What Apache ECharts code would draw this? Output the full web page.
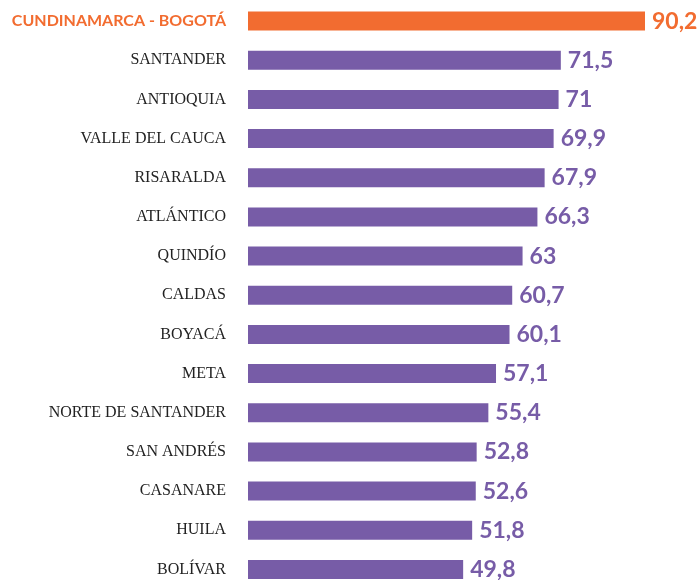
<!DOCTYPE html>
<html>
<head>
<meta charset="utf-8">
<script src="https://cdn.jsdelivr.net/npm/echarts@6/dist/echarts.min.js"></script>
<style>
  html, body { margin: 0; padding: 0; background: #fff; }
  #chart { width: 698px; height: 580px; }
</style>
</head>
<body>
<div id="chart"></div>
<script>
var departamentos = ['CUNDINAMARCA - BOGOTÁ', 'SANTANDER', 'ANTIOQUIA', 'VALLE DEL CAUCA', 'RISARALDA',
  'ATLÁNTICO', 'QUINDÍO', 'CALDAS', 'BOYACÁ', 'META', 'NORTE DE SANTANDER', 'SAN ANDRÉS',
  'CASANARE', 'HUILA', 'BOLÍVAR']
var valores = [90.2, 71.5, 71, 69.9, 67.9, 66.3, 63, 60.7, 60.1, 57.1, 55.4, 52.8, 52.6, 51.8, 49.8]

var naranja = '#f26c30'
var morado = '#775ca7'

var chart = echarts.init(document.getElementById('chart'))

chart.setOption({
  animation: false,
  grid: {
    left: 248,
    right: 53,
    top: 1.5,
    bottom: -9,
    containLabel: false,
    outerBoundsMode: 'none'
  },
  xAxis: {
    type: 'value',
    min: 2,
    max: 90.2,
    show: false
  },
  yAxis: {
    type: 'category',
    data: departamentos,
    inverse: true,
    axisLine: { show: false },
    axisTick: { show: false },
    axisLabel: {
      margin: 22,
      fontFamily: 'Liberation Serif',
      fontSize: 16,
      color: '#222',
      formatter: function (v, i) {
        return i === 0 ? '{dest|' + v + '}' : v
      },
      rich: {
        dest: {
          fontFamily: 'Lato',
          fontWeight: 'bold',
          fontSize: 16,
          color: naranja
        }
      }
    }
  },
  series: [{
    type: 'bar',
    data: valores.map(function (v, i) {
      return {
        value: v,
        itemStyle: { color: i === 0 ? naranja : morado },
        label: { color: i === 0 ? naranja : morado }
      }
    }),
    barWidth: 19,
    label: {
      show: true,
      position: 'right',
      distance: 7,
      fontFamily: 'Lato',
      fontWeight: 'bold',
      fontSize: 23,
      formatter: function (p) {
        return String(p.value).replace('.', ',')
      }
    }
  }]
})
</script>
</body>
</html>
